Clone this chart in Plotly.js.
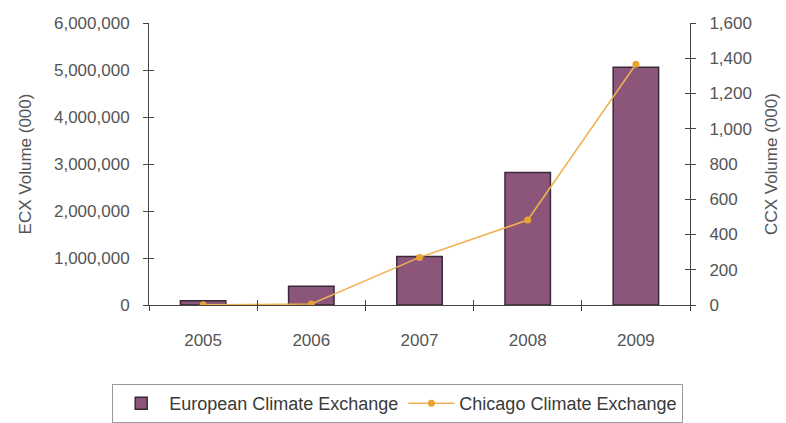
<!DOCTYPE html>
<html>
<head>
<meta charset="utf-8">
<script src="https://cdn.plot.ly/plotly-3.0.1.min.js"></script>
<style>html,body{margin:0;padding:0;background:#fff;}#chart{width:786px;height:423px;}</style>
</head>
<body>
<div id="chart"></div>
<script>
const years = ['2005', '2006', '2007', '2008', '2009'];
const ecxVolume = [90000, 400000, 1030000, 2820000, 5060000];
const ccxVolume = [1, 6, 270, 482, 1366];
const leftTicks = [0, 1000000, 2000000, 3000000, 4000000, 5000000, 6000000];
const rightTicks = [0, 200, 400, 600, 800, 1000, 1200, 1400, 1600];

const fontFam = '"Liberation Sans", Arial, sans-serif';
const txt = '#555555';
const axCol = '#444444';
const innerCol = '#444444';

const traces = [
  {
    type: 'bar', name: 'European Climate Exchange', x: years, y: ecxVolume,
    marker: {color: '#8b5679', line: {color: '#3a2a38', width: 1.5}},
    xaxis: 'x', yaxis: 'y'
  },
  {
    type: 'scatter', mode: 'lines+markers', name: 'Chicago Climate Exchange', x: years, y: ccxVolume,
    line: {color: '#f2b150', width: 1.5},
    marker: {color: '#e8a332', size: 7, symbol: 'circle'},
    xaxis: 'x', yaxis: 'y2'
  },
  {type: 'scatter', x: [0], y: [0], xaxis: 'x2', yaxis: 'y3', mode: 'markers',
   marker: {opacity: 0}, showlegend: false, hoverinfo: 'skip'},
  {type: 'scatter', x: [0], y: [0], xaxis: 'x2', yaxis: 'y4', mode: 'markers',
   marker: {opacity: 0}, showlegend: false, hoverinfo: 'skip'}
];

const layout = {
  width: 786, height: 423,
  margin: {l: 149, r: 96, t: 23, b: 118, autoexpand: false},
  paper_bgcolor: '#ffffff', plot_bgcolor: 'rgba(0,0,0,0)',
  font: {family: fontFam, size: 17, color: txt},
  showlegend: true,
  bargap: 0.58,
  legend: {
    orientation: 'h', x: -0.068, xanchor: 'left', y: -0.28, yanchor: 'top',
    bordercolor: '#999999', borderwidth: 1, bgcolor: '#ffffff',
    font: {family: fontFam, size: 18, color: '#3a3a3a'}, itemwidth: 46
  },
  xaxis: {
    type: 'category', categoryarray: years, range: [-0.5, 4.5],
    showline: true, linecolor: axCol, linewidth: 1,
    ticks: 'outside', ticklen: 5, tickcolor: axCol, tickson: 'boundaries',
    showgrid: false, zeroline: false, ticklabelstandoff: 20,
    tickfont: {size: 17, color: txt}
  },
  xaxis2: {
    overlaying: 'x', anchor: 'y3', type: 'linear', range: [-0.5, 4.5], tick0: -0.5, dtick: 1,
    ticks: 'inside', ticklen: 5, tickcolor: innerCol, showticklabels: false,
    showline: false, showgrid: false, zeroline: false
  },
  yaxis: {
    range: [0, 6000000], tickvals: leftTicks, tickformat: ',d',
    showline: true, linecolor: axCol, linewidth: 1,
    ticks: 'outside', ticklen: 5, tickcolor: axCol,
    showgrid: false, zeroline: false, ticklabelstandoff: 10,
    tickfont: {size: 17, color: txt},
    title: {text: 'ECX Volume (000)', standoff: 18, font: {size: 17, color: txt}}
  },
  yaxis3: {
    overlaying: 'y', anchor: 'x2', side: 'left', range: [0, 6000000], tickvals: leftTicks,
    ticks: 'inside', ticklen: 5, tickcolor: innerCol, showticklabels: false,
    showline: false, showgrid: false, zeroline: false
  },
  yaxis2: {
    overlaying: 'y', anchor: 'x', side: 'right', range: [0, 1600], tickvals: rightTicks, tickformat: ',d',
    showline: true, linecolor: axCol, linewidth: 1,
    ticks: 'outside', ticklen: 5, tickcolor: axCol,
    showgrid: false, zeroline: false, ticklabelstandoff: 10,
    tickfont: {size: 17, color: txt},
    title: {text: 'CCX Volume (000)', standoff: 14, font: {size: 17, color: txt}}
  },
  yaxis4: {
    overlaying: 'y', anchor: 'x2', side: 'right', range: [0, 1600], tickvals: rightTicks,
    ticks: 'inside', ticklen: 5, tickcolor: innerCol, showticklabels: false,
    showline: false, showgrid: false, zeroline: false
  }
};

Plotly.newPlot('chart', traces, layout, {staticPlot: true, displayModeBar: false});
</script>
</body>
</html>
